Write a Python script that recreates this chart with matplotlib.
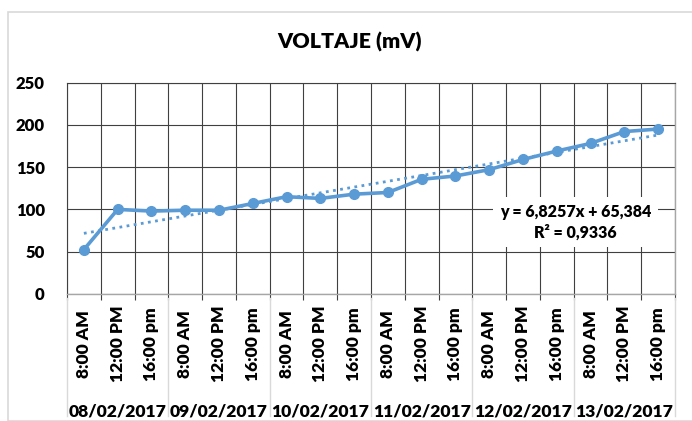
import numpy as np
import matplotlib.pyplot as plt
import matplotlib.transforms as mtransforms
from matplotlib.patches import Rectangle

plt.rcParams['font.family'] = ['Lato', 'DejaVu Sans']

horas = ["8:00 AM", "12:00 PM", "16:00 pm"]
fechas = ["08/02/2017", "09/02/2017", "10/02/2017",
          "11/02/2017", "12/02/2017", "13/02/2017"]
voltaje = [52.5, 100, 98, 99, 99, 107, 115, 113, 118, 120,
           135.6, 139.5, 147, 159, 169, 178, 192, 195]
ecuacion = "y = 6,8257x + 65,384\nR² = 0,9336"

azul = "#5B9BD5"
peso = "heavy"
W, H = 692, 421
fig = plt.figure(figsize=(W / 100, H / 100), dpi=100)
fig.patches.append(Rectangle((8 / W, 0), 1, 1 - 12 / H, transform=fig.transFigure,
                             fill=False, edgecolor="#D9D9D9", linewidth=1.2))

ax = fig.add_axes([67 / W, (H - 294) / H, (675 - 67) / W, (294 - 82.5) / H])
n = len(voltaje)
x = np.arange(n)
etiquetas = horas * len(fechas)

ax.plot(x, voltaje, color=azul, linewidth=2.6, marker="o", markersize=7, zorder=4)

# linea de tendencia lineal
m, b = np.polyfit(x + 1, voltaje, 1)
ax.plot(x, m * (x + 1) + b, color=azul, linewidth=2, linestyle=(0, (1, 1.6)), zorder=3)

ax.set_xlim(-0.5, n - 0.5)
ax.set_ylim(0, 250)
ax.set_yticks(range(0, 251, 50))
ax.set_xticks(x)
ax.set_xticklabels(etiquetas, rotation=90, fontsize=12.5, fontweight=peso, va="center")
ax.set_xticks(np.arange(-0.5, n, 1), minor=True)
ax.tick_params(axis="x", which="major", length=0, pad=36)
ax.tick_params(axis="x", which="minor", length=4, color="#404040", width=0.8)
ax.tick_params(axis="y", length=0, pad=16, labelsize=12)
for t in ax.get_yticklabels():
    t.set_fontweight(peso)

ax.grid(axis="y", color="#404040", linewidth=0.8)
ax.grid(axis="x", which="minor", color="#404040", linewidth=0.8)
ax.set_axisbelow(True)
for s in ["left", "top"]:
    ax.spines[s].set_color("#404040")
    ax.spines[s].set_linewidth(0.8)
for s in ["right", "bottom"]:
    ax.spines[s].set_color("#A6A6A6")
    ax.spines[s].set_linewidth(1.0)

# separadores de fechas y etiquetas de fecha
trans = mtransforms.blended_transform_factory(ax.transData, ax.transAxes)
for k in range(len(fechas) + 1):
    xb = -0.5 + 3 * k
    ax.plot([xb, xb], [-0.02, -0.575], transform=trans, color="#D9D9D9",
            linewidth=1, clip_on=False)
for k, f in enumerate(fechas):
    ax.text(3 * k + 1, -0.555, f, transform=trans, ha="center", va="center",
            fontsize=12.6, fontweight=peso)

ax.text(14.55, 85, ecuacion, ha="center", va="center", fontsize=11.5,
        fontweight=peso, linespacing=1.3, zorder=5,
        bbox=dict(facecolor="white", edgecolor="none", pad=5))

fig.text(350 / W, 1 - 42 / H, "VOLTAJE (mV)", ha="center", va="center",
         fontsize=15.4, fontweight=peso)

fig.savefig("out.png", dpi=100)
